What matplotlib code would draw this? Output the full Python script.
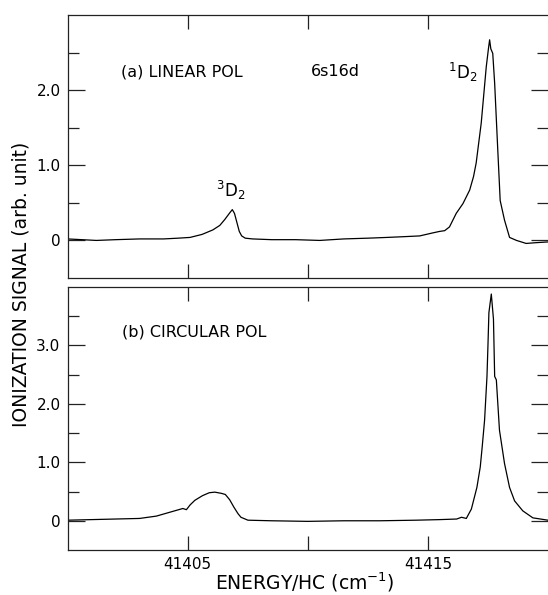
import matplotlib
matplotlib.use("Agg")
import matplotlib.pyplot as plt
from matplotlib.ticker import FixedLocator

# ---- data ----
energy_a = [41400.0, 41400.6, 41401.2, 41402.0, 41403.0, 41404.0, 41404.6, 41405.1,
            41405.6, 41406.05, 41406.34, 41406.55, 41406.76, 41406.86, 41406.95,
            41407.05, 41407.15, 41407.25, 41407.4, 41407.7, 41408.5, 41409.5,
            41410.5, 41411.5, 41412.5, 41413.3, 41414.0, 41414.66, 41415.2,
            41415.49, 41415.7, 41415.9, 41416.18, 41416.46, 41416.74, 41416.9,
            41417.01, 41417.22, 41417.43, 41417.52, 41417.57, 41417.62, 41417.70,
            41417.78, 41417.91, 41418.01, 41418.10, 41418.19, 41418.40, 41418.69,
            41419.09, 41419.5, 41420.0]
signal_a = [0.02, 0.01, 0.00, 0.01, 0.02, 0.02, 0.03, 0.04,
            0.08, 0.14, 0.20, 0.28, 0.37, 0.41, 0.36,
            0.24, 0.12, 0.06, 0.03, 0.02, 0.01, 0.01,
            0.00, 0.02, 0.03, 0.04, 0.05, 0.06, 0.10,
            0.12, 0.13, 0.18, 0.36, 0.49, 0.67, 0.85,
            1.03, 1.56, 2.31, 2.55, 2.67, 2.55, 2.49,
            2.09, 1.20, 0.53, 0.40, 0.27, 0.04, 0.00,
            -0.04, -0.03, -0.02]

energy_b = [41400.0, 41401.0, 41402.0, 41403.0, 41403.7, 41404.46, 41404.8, 41404.95,
            41405.1, 41405.3, 41405.62, 41405.9, 41406.13, 41406.4, 41406.57,
            41406.75, 41406.93, 41407.1, 41407.22, 41407.51, 41408.5, 41410.0,
            41411.5, 41413.0, 41414.5, 41415.5, 41416.2, 41416.4, 41416.6,
            41416.81, 41417.04, 41417.18, 41417.26, 41417.36, 41417.46, 41417.50,
            41417.54, 41417.64, 41417.73, 41417.78, 41417.85, 41417.98, 41418.19,
            41418.40, 41418.61, 41418.95, 41419.37, 41420.0]
signal_b = [0.01, 0.02, 0.03, 0.04, 0.08, 0.17, 0.21, 0.19,
            0.27, 0.35, 0.43, 0.48, 0.49, 0.47, 0.45,
            0.36, 0.23, 0.12, 0.06, 0.01, 0.00, -0.01,
            0.00, 0.00, 0.01, 0.02, 0.03, 0.06, 0.04,
            0.20, 0.57, 0.92, 1.26, 1.72, 2.47, 2.99,
            3.56, 3.88, 3.45, 2.47, 2.41, 1.55, 0.98,
            0.57, 0.34, 0.17, 0.05, 0.01]

x_ticks = [41405, 41410, 41415]
x_ticklabels = ["41405", "", "41415"]
ya_major = [0, 1, 2]
ya_labels = ["0", "1.0", "2.0"]
ya_minor = [0.5, 1.5, 2.5]
yb_major = [0, 1, 2, 3]
yb_labels = ["0", "1.0", "2.0", "3.0"]
yb_minor = [0.5, 1.5, 2.5, 3.5]

plt.rcParams['font.family'] = ['DejaVu Sans']

W, H = 548, 595
fig = plt.figure(figsize=(W / 100, H / 100), dpi=100)

def fx(px):
    return px / W

def fy(py):
    return 1 - py / H

left = 67.5
right = 548.0
ax_a = fig.add_axes([fx(left), fy(278), fx(right - left), (278 - 15) / H])
ax_b = fig.add_axes([fx(left), fy(550), fx(right - left), (550 - 287) / H])

for ax, e, s, ylim, ymaj, ylab, ymin in [
        (ax_a, energy_a, signal_a, (-0.5, 3.0), ya_major, ya_labels, ya_minor),
        (ax_b, energy_b, signal_b, (-0.5, 4.0), yb_major, yb_labels, yb_minor)]:
    ax.plot(e, s, color='black', lw=0.9)
    ax.set_xlim(41400, 41420)
    ax.set_ylim(*ylim)
    ax.xaxis.set_major_locator(FixedLocator(x_ticks))
    ax.yaxis.set_major_locator(FixedLocator(ymaj))
    ax.yaxis.set_minor_locator(FixedLocator(ymin))
    ax.set_yticklabels(ylab)
    ax.spines['right'].set_visible(False)
    for sp in ['left', 'top', 'bottom']:
        ax.spines[sp].set_linewidth(0.9)
        ax.spines[sp].set_color('#222222')
    ax.tick_params(axis='both', which='both', direction='in', color='#222222',
                   width=0.9, labelsize=11)
    ax.tick_params(axis='y', which='major', length=12, left=True, right=True, pad=5)
    ax.tick_params(axis='y', which='minor', length=8, left=True, right=True)
    ax.tick_params(axis='x', which='major', length=10, top=True, bottom=True, pad=5)

ax_a.set_xticklabels([])
ax_b.set_xticklabels(x_ticklabels)

# annotations
fig.text(fx(120.6), fy(72), "(a) LINEAR POL", fontsize=11.5, va='center', ha='left')
fig.text(fx(311), fy(72), "6s16d", fontsize=11.5, va='center', ha='left')
fig.text(fx(448), fy(72), r"$^{1}$D$_{2}$", fontsize=12, va='center', ha='left')
fig.text(fx(216), fy(190), r"$^{3}$D$_{2}$", fontsize=12, va='center', ha='left')
fig.text(fx(122), fy(331.7), "(b) CIRCULAR POL", fontsize=11.5, va='center', ha='left')

fig.text(fx(21), fy(284.5), "IONIZATION SIGNAL (arb. unit)", rotation=90,
         fontsize=13.5, va='center', ha='center')
fig.text(fx(304.5), fy(582), r"ENERGY/HC (cm$^{-1}$)", fontsize=13.5,
         va='center', ha='center')

fig.savefig("out.png", dpi=100)
